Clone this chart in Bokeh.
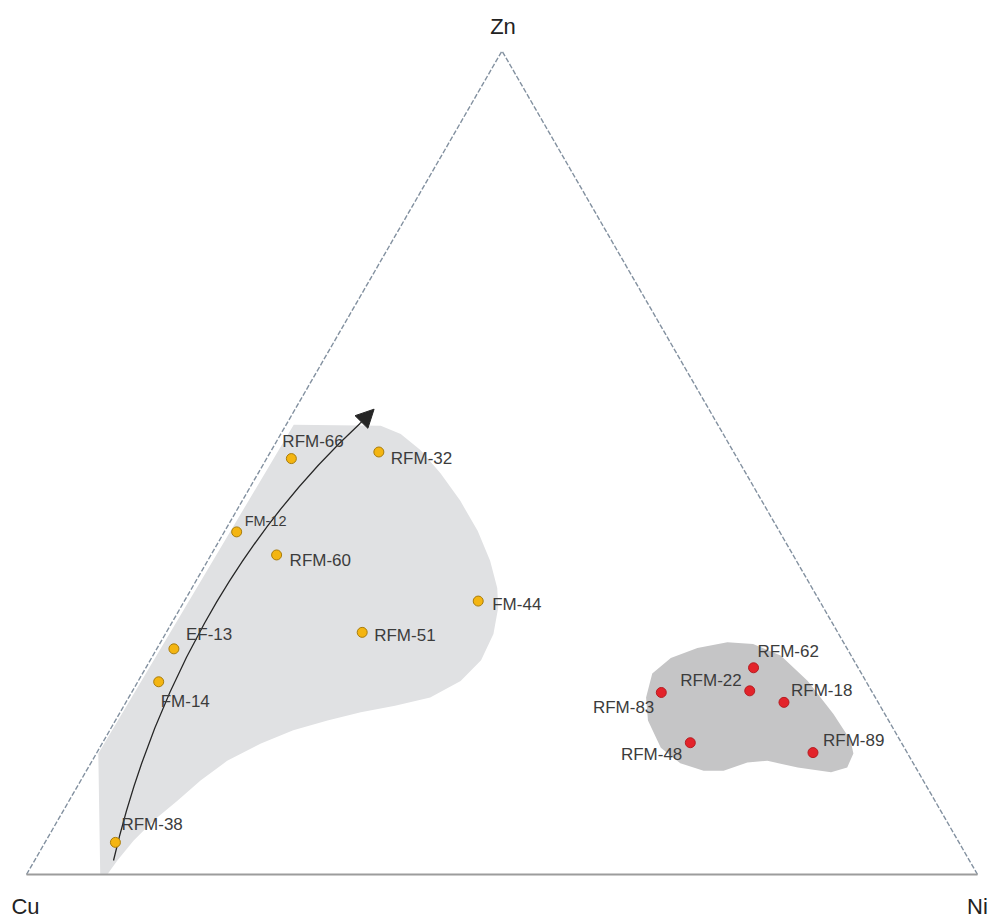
import math

from bokeh.core.properties import value
from bokeh.embed import file_html
from bokeh.models import Arrow, ColumnDataSource, NormalHead, Range1d
from bokeh.plotting import figure
from bokeh.resources import INLINE

# ---------------------------------------------------------------- data (wt. %)
cu_samples = ["RFM-66", "RFM-32", "FM-12", "RFM-60", "FM-44",
              "RFM-51", "EF-13", "FM-14", "RFM-38"]
cu_samples_cu = [46.9, 37.3, 57.1, 54.3, 35.9, 50.0, 70.8, 74.4, 88.7]
cu_samples_zn = [50.5, 51.3, 41.6, 38.8, 33.2, 29.4, 27.4, 23.4, 3.9]
cu_samples_ni = [2.6, 11.4, 1.3, 6.9, 30.9, 20.6, 1.8, 2.2, 7.4]

ni_samples = ["RFM-62", "RFM-22", "RFM-18", "RFM-83", "RFM-48", "RFM-89"]
ni_samples_cu = [11.0, 12.8, 9.9, 22.2, 22.2, 9.9]
ni_samples_zn = [25.1, 22.3, 20.9, 22.1, 16.0, 14.8]
ni_samples_ni = [63.9, 64.9, 69.2, 55.7, 61.8, 75.3]

# outline of the Cu-rich field (Zn %, Ni %; Cu is the remainder)
cu_field_zn = [54.6, 54.5, 53.5, 51.5, 48.7, 45.4, 41.7, 38.1, 34.8, 32.4,
               29.2, 26.0, 23.5, 21.5, 20.5, 19.7, 18.7, 17.5, 15.9, 13.8,
               11.4, 9.0, 6.6, 4.1, 1.7, 0.1, 0.1, 14.7]
cu_field_ni = [0.8, 10.0, 12.6, 15.7, 19.2, 22.9, 26.6, 29.7, 32.1, 33.4,
               34.5, 34.8, 33.9, 31.7, 28.5, 25.3, 22.3, 19.3, 16.7, 14.2,
               12.6, 11.4, 10.1, 9.2, 8.7, 8.5, 7.7, 0.2]

# outline of the Ni-rich field (Zn %, Ni %)
ni_field_zn = [28.0, 26.6, 23.5, 19.5, 16.3, 14.7, 13.0, 12.4, 13.0, 13.8,
               13.6, 12.6, 12.6, 13.5, 15.4, 18.7, 21.5, 24.4, 26.3, 27.5, 28.2]
ni_field_ni = [62.4, 66.0, 70.4, 75.1, 78.5, 79.6, 79.8, 78.4, 74.6, 71.0,
               69.0, 67.0, 64.9, 62.0, 59.0, 56.0, 54.4, 53.6, 54.6, 56.8, 59.6]

# evolution trend: cubic path (start, control 1, control 2, end) and arrow tip
trend_zn = [1.7, 21.8, 40.8, 54.8]
trend_ni = [8.3, 2.3, 1.6, 7.7]
trend_tip_zn = 56.5
trend_tip_ni = 8.3

apex_labels = ["Cu", "Zn", "Ni"]

# ---------------------------------------------------------------- geometry
H3 = math.sqrt(3) / 2


def to_xy(zn, ni, cu=None):
    """Ternary composition -> cartesian, Cu at (0,0), Ni at (1,0), Zn on top."""
    if cu is None:
        cu = 100.0 - zn - ni
    total = cu + zn + ni
    return (ni + zn / 2.0) / total, zn * H3 / total


def many(zns, nis, cus=None):
    cus = cus if cus is not None else [None] * len(zns)
    pts = [to_xy(z, n, c) for z, n, c in zip(zns, nis, cus)]
    return [p[0] for p in pts], [p[1] for p in pts]


W, H = 989, 918
PX = 951.0            # pixels per unit side length
LEFT, BASE = 26, 874  # screen position of the Cu corner

p = figure(width=W, height=H, title=None, toolbar_location=None,
           output_backend="svg", min_border=0,
           x_axis_location=None, y_axis_location=None,
           x_range=Range1d(-LEFT / PX, (W - LEFT) / PX),
           y_range=Range1d(-(H - BASE) / PX, BASE / PX))
p.grid.visible = False
p.outline_line_color = None
p.background_fill_color = "white"
p.border_fill_color = "white"

FONT = value("Liberation Sans")
INK = "#3c3c3c"

# compositional fields
fx, fy = many(cu_field_zn, cu_field_ni)
p.patch(fx, fy, fill_color="#e0e1e3", line_color=None)
gx, gy = many(ni_field_zn, ni_field_ni)
p.patch(gx, gy, fill_color="#c5c5c6", line_color=None)

# triangle frame
cu_pt, ni_pt, zn_pt = to_xy(0, 0), to_xy(0, 100), to_xy(100, 0)
p.line([cu_pt[0], zn_pt[0], ni_pt[0]], [cu_pt[1], zn_pt[1], ni_pt[1]],
       line_color="#8391a0", line_width=1.4, line_dash="5 2")
p.line([cu_pt[0], ni_pt[0]], [cu_pt[1], ni_pt[1]],
       line_color="#9c9c9c", line_width=2)

# trend arrow
tx, ty = many(trend_zn, trend_ni)
p.bezier(x0=[tx[0]], y0=[ty[0]], cx0=[tx[1]], cy0=[ty[1]],
         cx1=[tx[2]], cy1=[ty[2]], x1=[tx[3]], y1=[ty[3]],
         line_color="#262626", line_width=1.3)
tip = to_xy(trend_tip_zn, trend_tip_ni)
p.add_layout(Arrow(end=NormalHead(size=18, fill_color="#262626",
                                  line_color="#262626", line_width=1),
                   x_start=tx[3], y_start=ty[3], x_end=tip[0], y_end=tip[1],
                   line_color="#262626", line_width=1.3))

# label placement (pixel offsets from the point, alignment, font size)
cu_layout = {
    "RFM-66": (-9, -17, "left", "17px"),
    "RFM-32": (12, 7, "left", "17px"),
    "FM-12": (8, -11, "left", "14.5px"),
    "RFM-60": (13, 6, "left", "17px"),
    "FM-44": (14, 3, "left", "17px"),
    "RFM-51": (12, 3, "left", "17px"),
    "EF-13": (12, -14, "left", "17px"),
    "FM-14": (2, 20, "left", "17px"),
    "RFM-38": (6, -18, "left", "17px"),
}
ni_layout = {
    "RFM-62": (4, -16, "left", "17px"),
    "RFM-22": (-8, -10, "right", "17px"),
    "RFM-18": (7, -12, "left", "17px"),
    "RFM-83": (-7, 15, "right", "17px"),
    "RFM-48": (-8, 12, "right", "17px"),
    "RFM-89": (10, -12, "left", "17px"),
}


def group_source(names, cus, zns, nis, layout):
    xs, ys = many(zns, nis, cus)
    return ColumnDataSource(dict(
        x=xs, y=ys, name=names,
        dx=[layout[n][0] for n in names],
        dy=[layout[n][1] for n in names],
        align=[layout[n][2] for n in names],
        size=[layout[n][3] for n in names],
    ))


cu_src = group_source(cu_samples, cu_samples_cu, cu_samples_zn, cu_samples_ni, cu_layout)
ni_src = group_source(ni_samples, ni_samples_cu, ni_samples_zn, ni_samples_ni, ni_layout)

for src, fill, edge in ((cu_src, "#f4b511", "#a87c0c"),
                        (ni_src, "#e3232a", "#b51d22")):
    p.scatter("x", "y", source=src, marker="circle", size=10,
              fill_color=fill, line_color=edge, line_width=1)
    p.text("x", "y", text="name", source=src, x_offset="dx", y_offset="dy",
           text_align="align", text_baseline="middle", text_font=FONT,
           text_font_size="size", text_color=INK)

# corner labels
ax = [cu_pt[0], zn_pt[0], ni_pt[0]]
ay = [cu_pt[1], zn_pt[1], ni_pt[1]]
p.text(ax, ay, text=apex_labels, x_offset=[-1, 1, 0], y_offset=[32, -24, 32],
       text_align="center", text_baseline="middle", text_font=FONT,
       text_font_size="22px", text_color="#222222")

open("out.html", "w").write(file_html(p, INLINE))
